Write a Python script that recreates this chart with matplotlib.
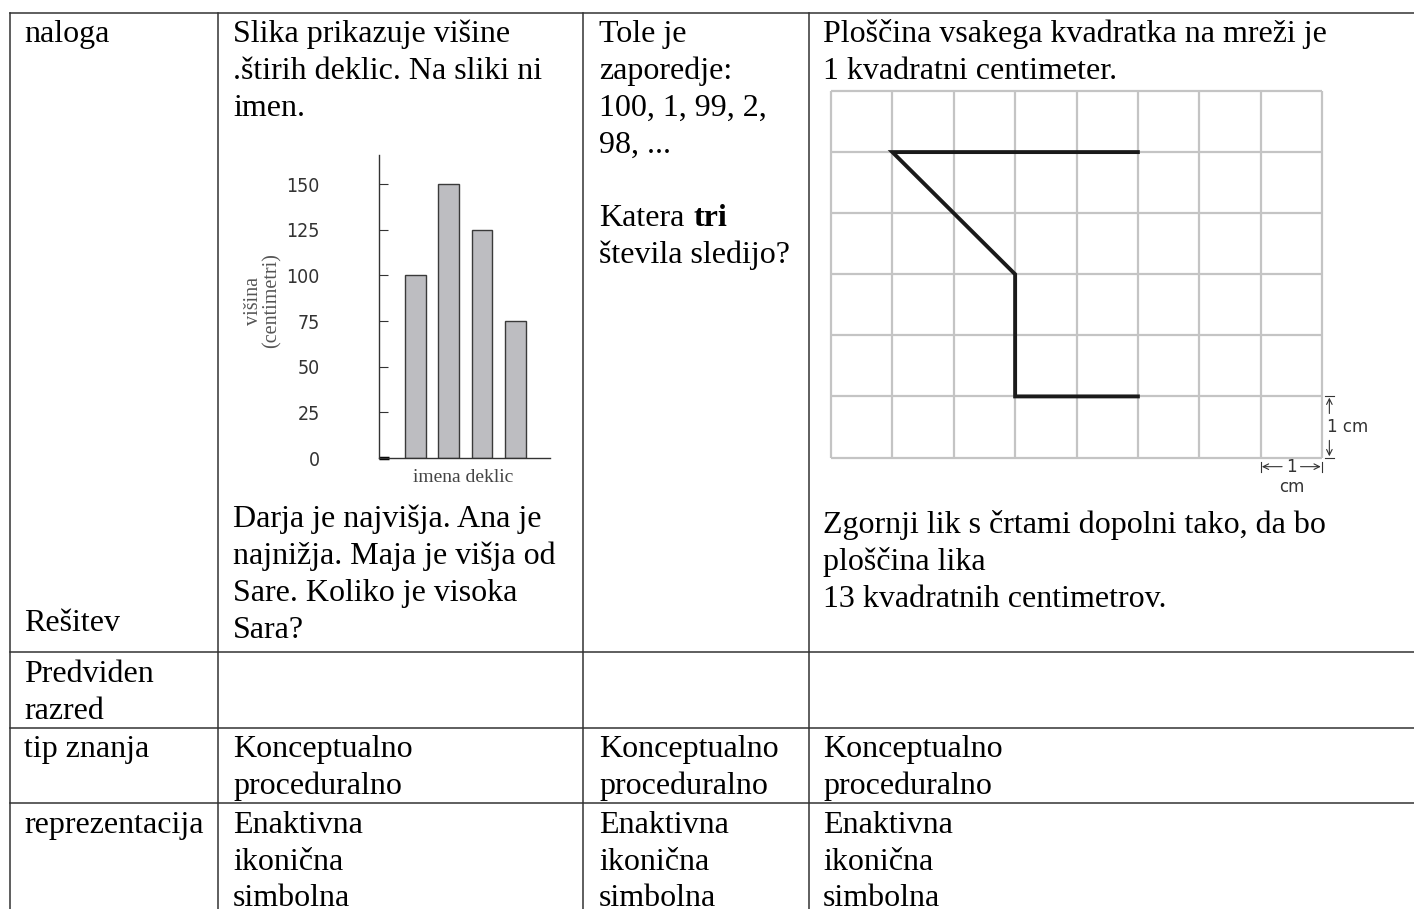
import matplotlib
matplotlib.use('Agg')
import matplotlib.pyplot as plt

# Data
girls_heights = [100, 150, 125, 75]
height_ticks = [0, 25, 50, 75, 100, 125, 150]
grid_cols = 8
grid_rows = 6
shape_x = [5, 1, 3, 3, 5]
shape_y = [1, 1, 3, 5, 5]

col1_lines = ["naloga"]
col2_lines = ["Slika prikazuje višine", ".štirih deklic. Na sliki ni", "imen."]
col2_lower = ["Darja je najvišja. Ana je", "najnižja. Maja je višja od",
              "Sare. Koliko je visoka", "Sara?"]
col3_lines = ["Tole je", "zaporedje:", "100, 1, 99, 2,", "98, ..."]
col3_lower = ["števila sledijo?"]
col4_lines = ["Ploščina vsakega kvadratka na mreži je", "1 kvadratni centimeter."]
col4_lower = ["Zgornji lik s črtami dopolni tako, da bo", "ploščina lika",
              "13 kvadratnih centimetrov."]
row_labels = [["Predviden", "razred"], ["tip znanja"], ["reprezentacija"]]
knowledge = ["Konceptualno", "proceduralno"]
representation = ["Enaktivna", "ikonična", "simbolna"]

W, H = 1414, 909
fig = plt.figure(figsize=(W / 100, H / 100), dpi=100)

def px_rect(l, t, r, b):
    return [l / W, 1 - b / H, (r - l) / W, (b - t) / H]

# background axes in pixel units for the table
bg = fig.add_axes([0, 0, 1, 1])
bg.set_xlim(0, W)
bg.set_ylim(H, 0)
bg.axis('off')

serif = 'Liberation Serif'
fs = 23
lh = 36.8
lc = '#333333'

# table lines
x_left, x_c2, x_c3, x_c4 = 10, 218, 583, 808.5
row_tops = [12.5, 652.3, 727.7, 803.4]
for y in row_tops:
    bg.plot([x_left, W], [y, y], color=lc, lw=1.1)
for x in [x_left, x_c2, x_c3, x_c4]:
    bg.plot([x, x], [12.5, H], color=lc, lw=1.1)

def lines(x, y0, texts, **kw):
    for i, t in enumerate(texts):
        bg.text(x, y0 + i * lh, t, family=serif, fontsize=fs, va='baseline',
                ha='left', **kw)

base1 = 42
lines(24, base1, col1_lines)
lines(233, base1, col2_lines)
lines(599, base1, col3_lines)
bg.text(599, base1 + 5 * lh, "Katera", family=serif, fontsize=fs, va='baseline')
bg.text(694, base1 + 5 * lh, "tri", family=serif, fontsize=fs, va='baseline',
        fontweight='bold')
lines(599, base1 + 6 * lh, col3_lower)
lines(823, base1, col4_lines)
lines(233, 637.7 - 3 * lh, col2_lower)
lines(823, 607 - 2 * lh, col4_lower)
lines(24, 631, ["Rešitev"])

# lower rows
lines(24, row_tops[1] + 29.5, row_labels[0])
lines(24, row_tops[2] + 29.5, row_labels[1])
lines(24, row_tops[3] + 29.5, row_labels[2])
for x in [233, 599, 823]:
    lines(x, row_tops[2] + 29.5, knowledge)
    lines(x, row_tops[3] + 29.5, representation)

# bar chart inset
bx = fig.add_axes(px_rect(379.3, 155, 550, 458))
pos = list(range(len(girls_heights)))
bx.bar(pos, girls_heights, width=0.62, color='#bdbdc1', edgecolor='#3a3a3a',
       linewidth=1.0)
bx.set_xlim(-1.08, 4.04)
bx.set_ylim(0, 165.9)
bx.set_yticks(height_ticks)
bx.set_yticklabels([str(v) for v in height_ticks], family='DejaVu Sans',
                   fontstretch='condensed', fontsize=14, color='#333333')
bx.tick_params(axis='y', direction='in', length=6.5, width=0.8, pad=42.7,
               colors='#333333')
bx.set_xticks([])
for s in ['top', 'right']:
    bx.spines[s].set_visible(False)
for s in ['left', 'bottom']:
    bx.spines[s].set_color('#333333')
    bx.spines[s].set_linewidth(1.0)
bx.plot([-1.08, -0.8], [0, 0], color='black', lw=2.5, clip_on=False,
        solid_capstyle='butt')
bx.patch.set_alpha(0)
bg.text(254, 301, "višina", family=serif, fontsize=14.5, rotation=90,
        ha='center', va='center', color='#555555')
bg.text(272, 301, "(centimetri)", family=serif, fontsize=14.5, rotation=90,
        ha='center', va='center', color='#555555')
bg.text(463, 478, "imena deklic", family=serif, fontsize=14, ha='center',
        va='center', color='#444444')

# grid figure inset
gx = fig.add_axes(px_rect(831, 91, 1322, 457.5))
gx.set_xlim(0, grid_cols)
gx.set_ylim(grid_rows, 0)
gx.axis('off')
gx.vlines(range(grid_cols + 1), 0, grid_rows, color='#c4c4c4', lw=1.6,
          clip_on=False)
gx.hlines(range(grid_rows + 1), 0, grid_cols, color='#c4c4c4', lw=1.6,
          clip_on=False)
gx.plot(shape_x, shape_y, color='#1a1a1a', lw=2.8, solid_joinstyle='miter',
        clip_on=False)

dim = '#333333'
ap = dict(arrowstyle='->', lw=0.8, color=dim, shrinkA=0, shrinkB=0)
# vertical 1 cm
gx.plot([8.05, 8.2], [5, 5], color=dim, lw=0.8, clip_on=False)
gx.plot([8.05, 8.2], [6, 6], color=dim, lw=0.8, clip_on=False)
gx.annotate('', xy=(8.12, 5.02), xytext=(8.12, 5.28), arrowprops=ap,
            annotation_clip=False)
gx.annotate('', xy=(8.12, 5.98), xytext=(8.12, 5.72), arrowprops=ap,
            annotation_clip=False)
gx.text(8.08, 5.5, "1 cm", family='DejaVu Sans', fontsize=12, ha='left',
        va='center', color=dim, clip_on=False)
# horizontal 1 cm
gx.plot([7, 7], [6.08, 6.23], color=dim, lw=0.8, clip_on=False)
gx.plot([8, 8], [6.08, 6.23], color=dim, lw=0.8, clip_on=False)
gx.annotate('', xy=(7.02, 6.15), xytext=(7.35, 6.15), arrowprops=ap,
            annotation_clip=False)
gx.annotate('', xy=(7.98, 6.15), xytext=(7.65, 6.15), arrowprops=ap,
            annotation_clip=False)
gx.text(7.5, 6.15, "1", family='DejaVu Sans', fontsize=12, ha='center',
        va='center', color=dim, clip_on=False)
gx.text(7.5, 6.48, "cm", family='DejaVu Sans', fontsize=12, ha='center',
        va='center', color=dim, clip_on=False)

fig.savefig('out.png', dpi=100)
